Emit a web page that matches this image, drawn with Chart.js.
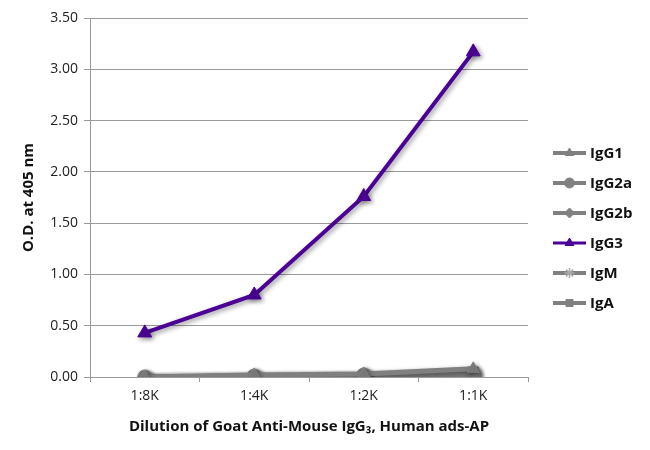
<!DOCTYPE html>
<html>
<head>
<meta charset="utf-8">
<script src="https://cdn.jsdelivr.net/npm/chart.js@4"></script>
<style>
  body { margin: 0; background: #fff; }
  #box { width: 650px; height: 450px; }
</style>
</head>
<body>
<div id="box"><canvas id="grafico"></canvas></div>
<script>
var diluciones = ['1:8K', '1:4K', '1:2K', '1:1K'];
var igG1  = [0.00, 0.02, 0.03, 0.08];
var igG2a = [0.00, 0.01, 0.02, 0.02];
var igG2b = [0.00, 0.01, 0.02, 0.03];
var igG3  = [0.43, 0.80, 1.76, 3.17];
var igM   = [0.00, 0.01, 0.02, 0.04];
var igA   = [0.00, 0.01, 0.02, 0.05];

var gris = '#808080';
var morado = '#4b0096';
var fuente = "'Open Sans', 'DejaVu Sans', sans-serif";

function serie(nombre, datos, color, estilo, ancho, radio) {
    return {
        label: nombre,
        data: datos,
        borderColor: color,
        backgroundColor: color,
        borderWidth: ancho,
        pointStyle: estilo,
        pointRadius: radio,
        pointBorderWidth: estilo === 'star' ? 2 : 1,
        pointBorderColor: estilo === 'star' ? '#aaa' : color,
        pointHoverRadius: radio,
        tension: 0
    };
}

// sombra suave como en la figura original
var sombra = {
    id: 'sombra',
    beforeDatasetsDraw: function(chart) {
        var ctx = chart.ctx;
        ctx.save();
        ctx.shadowColor = 'rgba(0,0,0,0.4)';
        ctx.shadowBlur = 5;
        ctx.shadowOffsetX = 2;
        ctx.shadowOffsetY = 2;
    },
    afterDatasetsDraw: function(chart) {
        chart.ctx.restore();
    }
};

// leyenda con linea + marcador a la derecha
var leyenda = {
    id: 'leyenda',
    afterDraw: function(chart) {
        var ctx = chart.ctx;
        var x0 = 553, x1 = 586, y = 153, paso = 30;
        chart.data.datasets.forEach(function(ds, i) {
            var yy = y + i * paso;
            var esEstrella = ds.pointStyle === 'star';
            ctx.save();
            ctx.strokeStyle = ds.borderColor;
            ctx.lineWidth = ds.borderWidth - 1;
            ctx.beginPath();
            ctx.moveTo(x0, yy);
            ctx.lineTo(x1, yy);
            ctx.stroke();
            ctx.strokeStyle = esEstrella ? '#aaa' : ds.borderColor;
            ctx.fillStyle = ds.borderColor;
            ctx.lineWidth = esEstrella ? 1.5 : 1;
            Chart.helpers.drawPoint(ctx, {
                pointStyle: ds.pointStyle,
                radius: 5,
                borderWidth: ctx.lineWidth,
                rotation: 0
            }, (x0 + x1) / 2, yy);
            ctx.fillStyle = '#111';
            ctx.font = 'bold 15px ' + fuente;
            ctx.textBaseline = 'middle';
            ctx.fillText(ds.label, 590, yy + 1);
            ctx.restore();
        });
    }
};

var chart = new Chart(document.getElementById('grafico'), {
    type: 'line',
    data: {
        labels: diluciones,
        datasets: [
            serie('IgG1', igG1, gris, 'triangle', 5, 7),
            serie('IgG2a', igG2a, gris, 'circle', 5, 7),
            serie('IgG2b', igG2b, gris, 'rectRot', 5, 7),
            serie('IgG3', igG3, morado, 'triangle', 4, 8),
            serie('IgM', igM, gris, 'star', 5, 7),
            serie('IgA', igA, gris, 'rect', 5, 7)
        ]
    },
    options: {
        responsive: true,
        maintainAspectRatio: false,
        animation: false,
        layout: { padding: { left: 16, right: 122, top: 18, bottom: 10 } },
        plugins: {
            legend: { display: false },
            tooltip: { enabled: false }
        },
        scales: {
            x: {
                offset: true,
                grid: {
                    offset: true,
                    drawOnChartArea: false,
                    drawTicks: true,
                    tickLength: 5,
                    color: '#999'
                },
                border: { color: '#999', width: 1 },
                ticks: {
                    color: '#222',
                    font: { family: fuente, size: 14 },
                    padding: 6
                },
                title: {
                    display: true,
                    text: 'Dilution of Goat Anti-Mouse IgG\u2083, Human ads-AP',
                    color: '#111',
                    font: { family: fuente, size: 15, weight: 'bold' },
                    padding: { top: 10 }
                },
                afterFit: function(scale) { scale.height = 63; }
            },
            y: {
                min: 0,
                max: 3.5,
                ticks: {
                    stepSize: 0.5,
                    color: '#222',
                    font: { family: fuente, size: 14 },
                    padding: 6,
                    callback: function(v) { return v.toFixed(2); }
                },
                grid: {
                    color: '#999',
                    tickLength: 6
                },
                border: { color: '#999', width: 1 },
                title: {
                    display: true,
                    text: 'O.D. at 405 nm',
                    color: '#111',
                    font: { family: fuente, size: 15, weight: 'bold' }
                },
                afterFit: function(scale) { scale.width = 74; }
            }
        }
    },
    plugins: [sombra, leyenda]
});
</script>
</body>
</html>
